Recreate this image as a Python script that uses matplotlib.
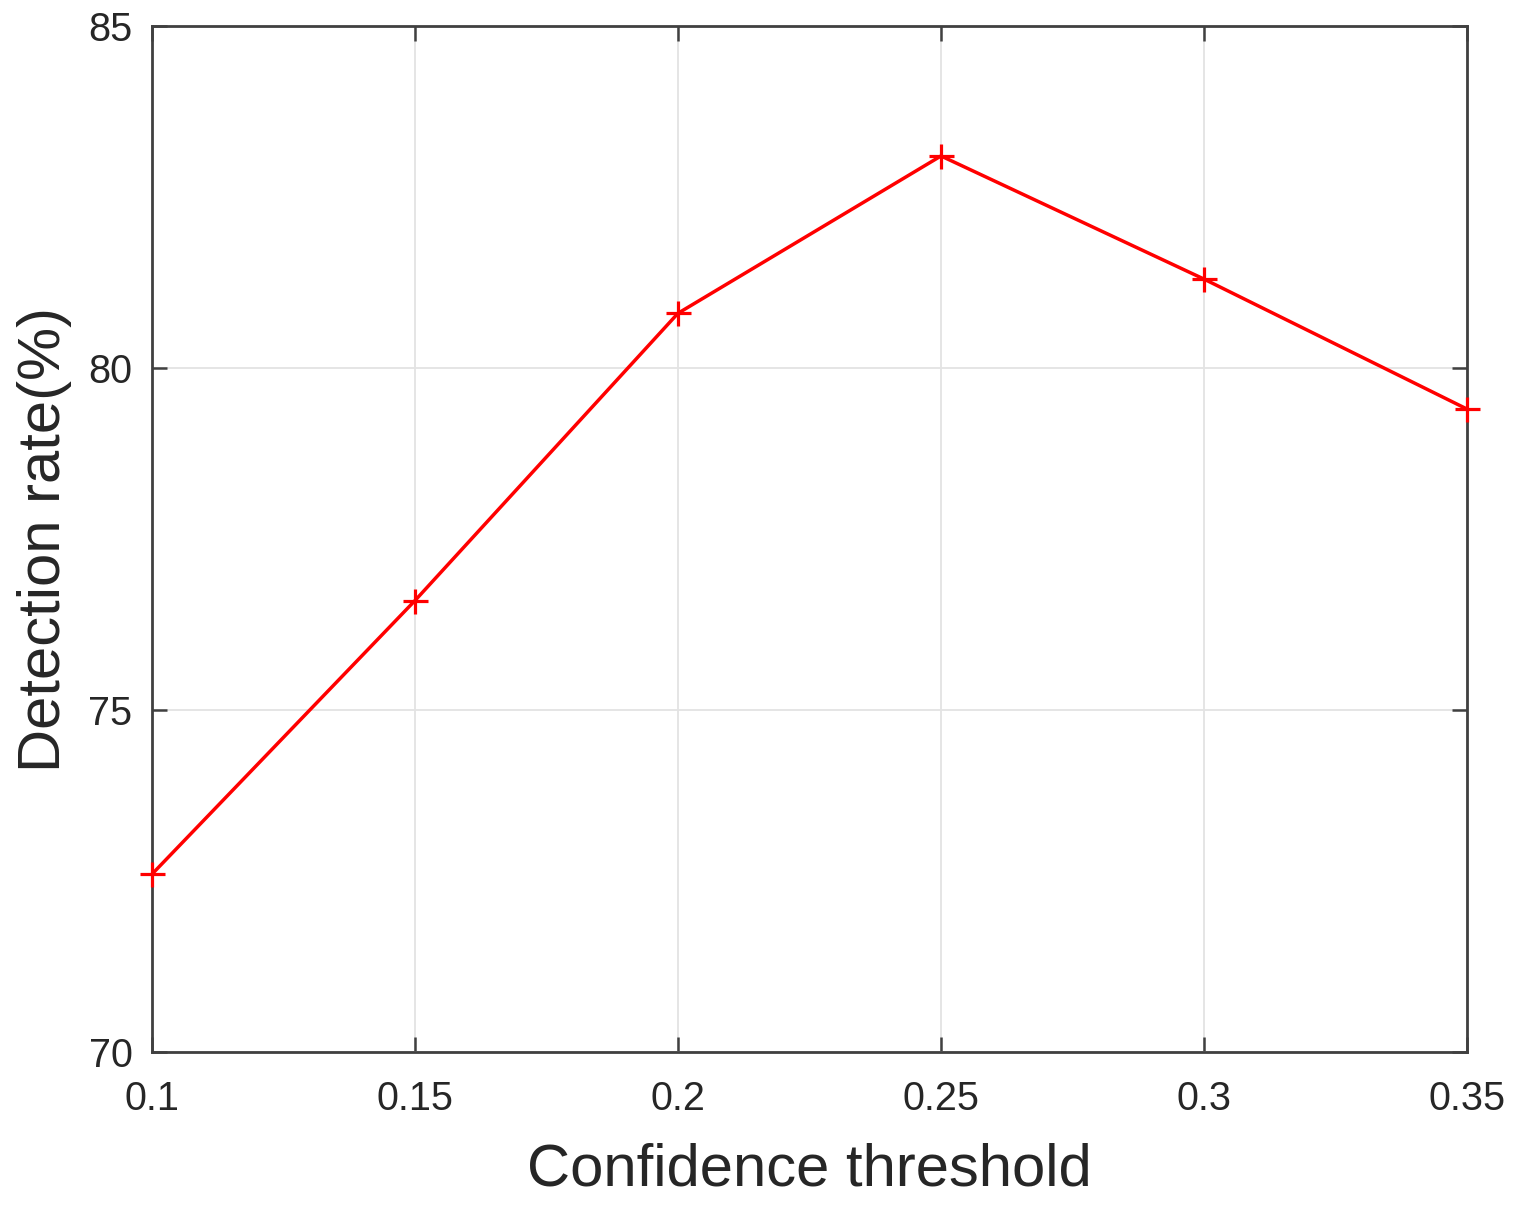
import matplotlib
matplotlib.use("Agg")
import matplotlib.pyplot as plt

thresholds = [0.1, 0.15, 0.2, 0.25, 0.3, 0.35]
detection_rate = [72.6, 76.6, 80.8, 83.1, 81.3, 79.4]
xticks = [0.1, 0.15, 0.2, 0.25, 0.3, 0.35]
xtick_labels = ["0.1", "0.15", "0.2", "0.25", "0.3", "0.35"]
yticks = [70, 75, 80, 85]

plt.rcParams['font.family'] = ['Liberation Sans', 'DejaVu Sans']

fig = plt.figure(figsize=(15.13, 12.12), dpi=100)
ax = fig.add_axes([152/1513, 1 - 1052/1212, (1467-152)/1513, (1052-26)/1212])

ax.plot(thresholds, detection_rate, color='#ff0000', lw=2.5, marker='+',
        markersize=18, markeredgewidth=2.3, zorder=3, clip_on=False)

ax.set_xlim(0.1, 0.35)
ax.set_ylim(70, 85)
ax.set_xticks(xticks)
ax.set_xticklabels(xtick_labels)
ax.set_yticks(yticks)
ax.grid(True, color='#e3e3e3', lw=1.3)
ax.set_axisbelow(True)
for s in ax.spines.values():
    s.set_color('#404040')
    s.set_linewidth(2.0)
ax.tick_params(direction='in', length=11, width=1.8, color='#404040',
               labelsize=28.5, top=True, right=True, labelcolor='#262626')
ax.tick_params(axis='x', pad=20)
ax.tick_params(axis='y', pad=14)
ax.set_xlabel('Confidence threshold', fontsize=43, color='#262626', labelpad=18)
ax.set_ylabel('Detection rate(%)', fontsize=43, color='#262626', labelpad=12)

fig.savefig('out.png', dpi=100)
